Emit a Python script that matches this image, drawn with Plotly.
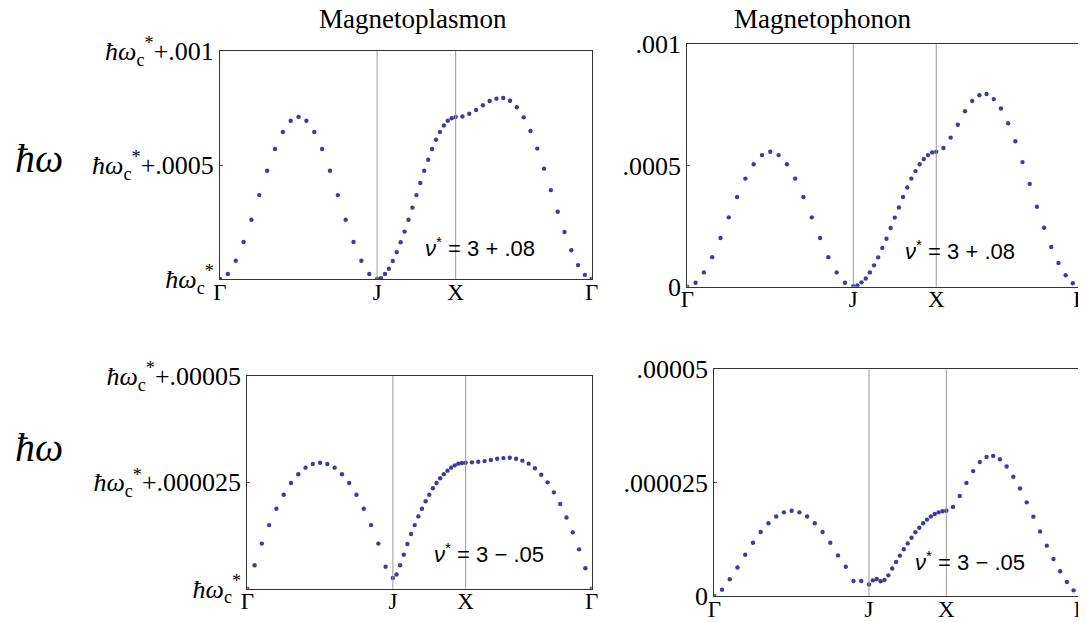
import numpy as np
import plotly.graph_objects as go

# ---------------- data ----------------
# k-path nodes (Γ, J, X, Γ) in path-length units, 20 samples per segment
path_nodes = [0.0, 1.0, 1.5, 2.366]
path_labels = ["Γ", "J", "X", "Γ"]
samples_per_segment = 20

# energies above ħω_c* in units of 1e-6
plasmon_plus = [0, 22, 80, 162, 260, 368, 475, 570, 645, 694, 711, 694, 645, 570, 475, 368, 260, 162, 80, 22, 0,
                4, 22, 45, 79, 118, 161, 208, 260, 313, 368, 421, 475, 523, 570, 611, 645, 673, 694, 705, 711,
                713, 725, 741, 762, 781, 791, 794, 782, 753, 709, 649, 572, 484, 390, 295, 206, 126, 61, 18, 0]
phonon_plus = [0, 16.5, 59, 122, 201, 286, 370, 446, 505, 543, 557, 543, 505, 446, 370, 286, 201, 122, 59, 16.5, 2,
               5.5, 18, 34, 59, 88, 121, 160, 198, 242, 285, 327, 370, 409, 446, 477, 505, 527, 543, 554, 557,
               572, 615, 668, 724, 766, 790, 795, 774, 735, 674, 600, 514, 424, 330, 243, 164, 98, 47, 14, 0]
plasmon_minus = [0, 5.5, 10.6, 14.95, 18.8, 22.1, 24.85, 26.9, 28.45, 29.3, 29.6, 29.3, 28.45, 26.9, 24.85, 22.1, 18.8, 14.95, 10.6, 5.15, 2.5,
                 3.35, 5.5, 8.0, 10.5, 12.85, 14.95, 17.0, 18.8, 20.55, 22.1, 23.6, 24.85, 25.95, 26.9, 27.75, 28.45, 29.0, 29.4, 29.55, 29.6,
                 29.7, 29.85, 30.0, 30.25, 30.55, 30.7, 30.8, 30.55, 30.1, 29.4, 28.3, 26.8, 25.0, 22.65, 19.9, 16.75, 13.25, 9.25, 4.8, 0]
phonon_minus = [0, 1.4, 3.7, 6.3, 9.1, 11.75, 14.1, 16.05, 17.55, 18.45, 18.8, 18.45, 17.55, 16.05, 14.1, 11.75, 8.95, 6.45, 3.3, 3.3, 2.55,
                3.45, 3.75, 3.25, 3.55, 4.55, 6.05, 7.5, 8.9, 10.3, 11.6, 12.85, 14.05, 15.05, 16.05, 16.85, 17.55, 18.1, 18.45, 18.7, 18.8,
                19.65, 22.05, 24.95, 27.55, 29.55, 30.65, 30.9, 30.15, 28.55, 26.3, 23.7, 20.65, 17.5, 14.25, 11.1, 8.15, 5.45, 3.1, 1.25, 0]

col_titles = ["Magnetoplasmon", "Magnetophonon"]
filling_labels = ["<i>ν</i><sup>*</sup> = 3 + .08", "<i>ν</i><sup>*</sup> = 3 − .05"]

hw = "<i>ħω</i><sub>c</sub><sup>*</sup>"
ytick_vals_top = [0, 500, 1000]
ytick_vals_bot = [0, 25, 50]
ytick_text_pl_top = [hw, hw + "+.0005", hw + "+.001"]
ytick_text_ph_top = ["0", ".0005", ".001"]
ytick_text_pl_bot = [hw, hw + "+.000025", hw + "+.00005"]
ytick_text_ph_bot = ["0", ".000025", ".00005"]

# ---------------- build path x ----------------
kx = [path_nodes[0]]
for a, b in zip(path_nodes[:-1], path_nodes[1:]):
    kx.extend(list(np.linspace(a, b, samples_per_segment + 1)[1:]))

WIN_W, WIN_H = 1086, 622
OFF = 8  # default page body margin
W, H = WIN_W - OFF, WIN_H - OFF


def px2x(px):
    return (px - OFF) / W


def py2y(py):
    return 1 - (py - OFF) / H


# panel boxes in window pixels: (left, right, top, bottom)
boxes = [(220, 591.7, 51, 279), (687.3, 1080, 44.3, 286.7),
         (247.3, 591.7, 376, 588.7), (714.3, 1080.3, 369.3, 596)]

series = [plasmon_plus, phonon_plus, plasmon_minus, phonon_minus]
yranges = [[0, 1000], [0, 1000], [0, 50], [0, 50]]
ytvals = [ytick_vals_top, ytick_vals_top, ytick_vals_bot, ytick_vals_bot]
yttext = [ytick_text_pl_top, ytick_text_ph_top, ytick_text_pl_bot, ytick_text_ph_bot]

SERIF = "Liberation Serif"
SANS = "Liberation Sans"
DOT = "#3c3c9c"

fig = go.Figure()
layout = dict(width=W, height=H, margin=dict(l=0, r=0, t=0, b=0, autoexpand=False),
              paper_bgcolor="white", plot_bgcolor="white", showlegend=False,
              template="none")
shapes = []
annotations = []

for i, (box, ys) in enumerate(zip(boxes, series)):
    n = "" if i == 0 else str(i + 1)
    l, r, t, b = box
    xd = [max(0, px2x(l)), min(1, px2x(r))]
    yd = [max(0, py2y(b)), min(1, py2y(t))]
    fig.add_trace(go.Scatter(x=kx, y=ys, mode="markers",
                             marker=dict(size=4.4, color=DOT, line=dict(width=0)),
                             xaxis="x" + n, yaxis="y" + n, hoverinfo="skip"))
    layout["xaxis" + n] = dict(domain=xd, anchor="y" + n, range=[path_nodes[0], path_nodes[-1]],
                               automargin=False, ticklabeloverflow="allow",
                               tickmode="array", tickvals=path_nodes, ticktext=path_labels,
                               showgrid=False, zeroline=False, showline=True, mirror=True,
                               linecolor="#333", linewidth=1, ticks="",
                               ticklabelstandoff=-8,
                               tickfont=dict(family=SERIF, size=23, color="black"))
    layout["yaxis" + n] = dict(domain=yd, anchor="x" + n, range=yranges[i],
                               automargin=False, ticklabeloverflow="allow",
                               tickmode="array", tickvals=ytvals[i], ticktext=yttext[i],
                               showgrid=False, zeroline=False, showline=True, mirror=True,
                               linecolor="#333", linewidth=1, ticks="inside", ticklen=3,
                               tickcolor="#555",
                               tickfont=dict(family=SERIF, size=26, color="black"))
    for xv in path_nodes[1:3]:
        shapes.append(dict(type="line", xref="x" + n, yref="y" + n + " domain",
                           x0=xv, x1=xv, y0=0, y1=1, line=dict(color="#999", width=1)))

# filling factor labels
ann_pos = [(480, 247), (960, 250), (489, 553), (970, 561)]
for i, (px, py) in enumerate(ann_pos):
    annotations.append(dict(text=filling_labels[i // 2], x=px2x(px), y=py2y(py),
                            xref="paper", yref="paper", showarrow=False,
                            xanchor="center", yanchor="middle",
                            font=dict(family=SANS, size=22, color="black")))

# column titles
for txt, px in zip(col_titles, [413, 822]):
    annotations.append(dict(text=txt, x=px2x(px), y=py2y(19), xref="paper", yref="paper",
                            showarrow=False, xanchor="center", yanchor="middle", borderpad=0,
                            font=dict(family=SERIF, size=27, color="black")))

# row labels ħω
for py in [158, 447]:
    annotations.append(dict(text="<i>ħω</i>", x=px2x(39), y=py2y(py), xref="paper", yref="paper",
                            showarrow=False, xanchor="center", yanchor="middle",
                            font=dict(family=SERIF, size=40, color="black")))

layout["shapes"] = shapes
layout["annotations"] = annotations
fig.update_layout(**layout)
fig.write_html("out.html")
